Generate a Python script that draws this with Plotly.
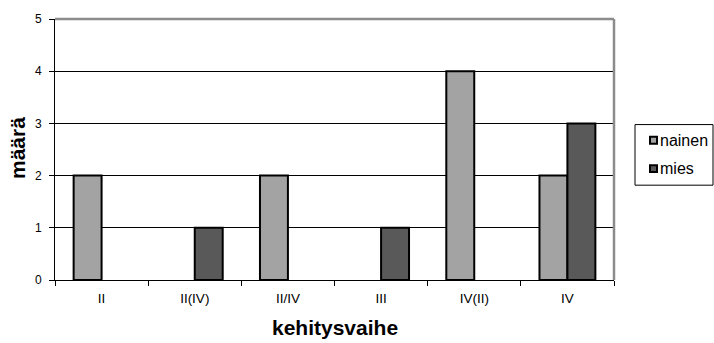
import plotly.graph_objects as go

# Development stages and counts by sex
stages = ["II", "II(IV)", "II/IV", "III", "IV(II)", "IV"]
nainen = [2, 0, 2, 0, 4, 2]
mies = [0, 1, 0, 1, 0, 3]
y_ticks = [0, 1, 2, 3, 4, 5]

series = [("nainen", nainen, "#a3a3a3"), ("mies", mies, "#595959")]
font = "Liberation Sans, Arial, sans-serif"

# Plot area in pixels
L, R, T, B = 55, 614, 13, 280
W, H = 714, 343

fig = go.Figure()
for name, vals, color in series:
    # zero counts are left empty so no outline is drawn on the axis
    fig.add_trace(go.Bar(
        x=stages, y=[v if v else None for v in vals], name=name,
        marker=dict(color=color, line=dict(color="#000000", width=2)),
        showlegend=False,
    ))

fig.update_layout(
    width=W, height=H,
    margin=dict(l=L, r=W - R, t=T, b=H - B),
    paper_bgcolor="white", plot_bgcolor="white",
    barmode="group", bargap=0.4, bargroupgap=0,
    font=dict(family=font, size=12, color="#000000"),
    xaxis=dict(
        type="category", categoryorder="array", categoryarray=stages,
        showline=True, linecolor="#000000", linewidth=1,
        ticks="outside", tickson="boundaries", ticklen=5, tickcolor="#000000",
        ticklabelstandoff=6, tickfont=dict(size=13.5),
        showgrid=False,
    ),
    yaxis=dict(
        range=[0, 5], tickvals=y_ticks,
        showline=True, linecolor="#000000", linewidth=1,
        ticks="outside", ticklen=5, tickcolor="#000000",
        ticklabelstandoff=5, tickfont=dict(size=12),
        showgrid=True, gridcolor="#000000", gridwidth=1,
        zeroline=False,
    ),
)

pw, ph = float(R - L), float(B - T)
def px(x):
    return (x - L) / pw
def py(y):
    return (B - y) / ph

# Axis titles
fig.add_annotation(xref="paper", yref="paper", x=px(334.5), y=py(329),
                   text="<b>kehitysvaihe</b>", showarrow=False,
                   xanchor="center", yanchor="middle",
                   font=dict(size=21, family=font, color="#000000"))
fig.add_annotation(xref="paper", yref="paper", x=px(17), y=py(145),
                   text="<b>määrä</b>", showarrow=False, textangle=-90,
                   xanchor="center", yanchor="middle",
                   font=dict(size=21, family=font, color="#000000"))

# Grey frame on top and right of the plot area
fig.add_shape(type="line", xref="paper", yref="paper", x0=0, x1=1, y0=1, y1=1,
              line=dict(color="#8c8c8c", width=2.5))
fig.add_shape(type="line", xref="paper", yref="paper", x0=1, x1=1, y0=0, y1=1,
              line=dict(color="#8c8c8c", width=2.5))

# Legend box
fig.add_shape(type="rect", xref="paper", yref="paper",
              x0=px(635), x1=px(713), y0=py(183), y1=py(121),
              line=dict(color="#000000", width=1), fillcolor="white")
for i, (name, vals, color) in enumerate(series):
    yc = 137 + i * 29
    fig.add_shape(type="rect", xref="paper", yref="paper",
                  x0=px(650), x1=px(657), y0=py(yc + 3.5), y1=py(yc - 3.5),
                  line=dict(color="#000000", width=2), fillcolor=color)
    fig.add_annotation(xref="paper", yref="paper", x=px(657.5), y=py(yc),
                       text=name, showarrow=False, xanchor="left", yanchor="middle",
                       font=dict(size=16, family=font, color="#000000"))

fig.write_html("out.html")
